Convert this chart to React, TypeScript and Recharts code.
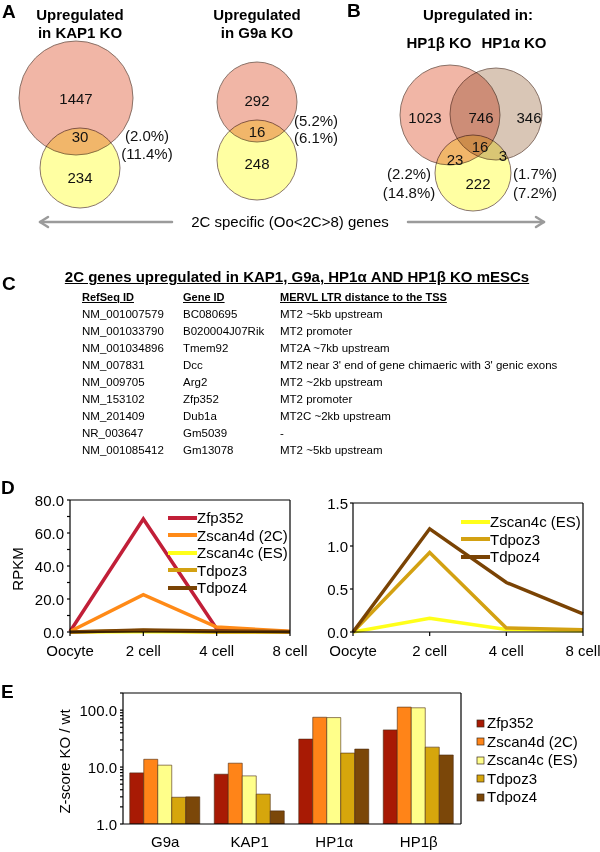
import React from 'react';
import {
  ScatterChart, Scatter, XAxis, YAxis, LineChart, Line, BarChart, Bar, Legend, Label,
} from 'recharts';

const FONT = '"Liberation Sans", Arial, Helvetica, sans-serif';

// ---------- Panel A/B: Venn diagrams ----------
const vennCircles = [
  { id: 'KAP1 KO', x: 76, y: 98, r: 57, fill: '#f1b6a6' },
  { id: '2C specific (KAP1)', x: 80, y: 168, r: 40, fill: '#ffffa2' },
  { id: 'G9a KO', x: 257, y: 102, r: 40, fill: '#f1b6a6' },
  { id: '2C specific (G9a)', x: 257, y: 160, r: 40, fill: '#ffffa2' },
  { id: 'HP1β KO', x: 450, y: 115, r: 50, fill: '#f1b6a6' },
  { id: 'HP1α KO', x: 496, y: 114, r: 46, fill: '#d9c6b6' },
  { id: '2C specific (HP1)', x: 473, y: 173, r: 38, fill: '#ffffa2' },
];
const vennCounts = [
  { x: 76, y: 98, label: '1447' },
  { x: 80, y: 136, label: '30' },
  { x: 80, y: 177, label: '234' },
  { x: 257, y: 100, label: '292' },
  { x: 257, y: 131, label: '16' },
  { x: 257, y: 163, label: '248' },
  { x: 425, y: 117, label: '1023' },
  { x: 481, y: 117, label: '746' },
  { x: 529, y: 117, label: '346' },
  { x: 480, y: 146, label: '16' },
  { x: 455, y: 159, label: '23' },
  { x: 503, y: 155, label: '3' },
  { x: 478, y: 183, label: '222' },
];
const vennPercents = [
  { x: 147, y: 135, label: '(2.0%)' },
  { x: 147, y: 153, label: '(11.4%)' },
  { x: 316, y: 120, label: '(5.2%)' },
  { x: 316, y: 137, label: '(6.1%)' },
  { x: 409, y: 173, label: '(2.2%)' },
  { x: 409, y: 192, label: '(14.8%)' },
  { x: 535, y: 173, label: '(1.7%)' },
  { x: 535, y: 192, label: '(7.2%)' },
];
const VENN_W = 600;
const VENN_H = 215;
const VENN_XMAX = 600;
const VENN_YMAX = 215;

// ---------- Panel C: table ----------
const refSeqIds = ['NM_001007579', 'NM_001033790', 'NM_001034896', 'NM_007831', 'NM_009705', 'NM_153102', 'NM_201409', 'NR_003647', 'NM_001085412'];
const geneIds = ['BC080695', 'B020004J07Rik', 'Tmem92', 'Dcc', 'Arg2', 'Zfp352', 'Dub1a', 'Gm5039', 'Gm13078'];
const ltrDistances = ['MT2 ~5kb upstream', 'MT2 promoter', 'MT2A ~7kb upstream', "MT2 near 3' end of gene chimaeric with 3' genic exons", 'MT2 ~2kb upstream', 'MT2 promoter', 'MT2C ~2kb upstream', '-', 'MT2 ~5kb upstream'];

// ---------- Panel D: RPKM ----------
const stages = ['Oocyte', '2 cell', '4 cell', '8 cell'];
const zfp352Rpkm = [0.3, 68.5, 2.0, 0.1];
const zscan4dRpkm = [0.3, 22.6, 3.0, 0.4];
const zscan4cRpkm = [0.0, 0.16, 0.03, 0.015];
const tdpoz3Rpkm = [0.0, 0.925, 0.046, 0.027];
const tdpoz4Rpkm = [0.0, 1.2, 0.575, 0.21];
const leftTicks = [0, 10, 20, 30, 40, 50, 60, 70, 80];
const leftLabelled = [0, 20, 40, 60, 80];
const rightTicks = [0, 0.5, 1.0, 1.5];

// ---------- Panel E: Z-scores ----------
const koLines = ['G9a', 'KAP1', 'HP1α', 'HP1β'];
const zfp352Z = [7.9, 7.5, 31, 45];
const zscan4dZ = [13.7, 11.7, 75, 113];
const zscan4cZ = [10.8, 7.0, 74, 110];
const tdpoz3Z = [2.95, 3.35, 17.6, 22.4];
const tdpoz4Z = [3.0, 1.7, 20.7, 16.3];
const logTicks = [1, 2, 3, 4, 5, 6, 7, 8, 9, 10, 20, 30, 40, 50, 60, 70, 80, 90, 100, 200];
const logLabelled = [1, 10, 100];

const legendOrderLeft = ['Zfp352', 'Zscan4d (2C)', 'Zscan4c (ES)', 'Tdpoz3', 'Tdpoz4'];
const legendOrderRight = ['Zscan4c (ES)', 'Tdpoz3', 'Tdpoz4'];

const COL = {
  zfp352Line: '#c11f38',
  zscan4dLine: '#ff8a17',
  zscan4cLine: '#ffff1a',
  tdpoz3Line: '#d3a112',
  tdpoz4Line: '#7a4304',
  zfp352Bar: '#a81a04',
  zscan4dBar: '#ff8418',
  zscan4cBar: '#ffff8a',
  tdpoz3Bar: '#d6a60c',
  tdpoz4Bar: '#7b4709',
};

const stageData = stages.map((s, i) => ({
  stage: s,
  zfp352: zfp352Rpkm[i],
  zscan4d: zscan4dRpkm[i],
  zscan4c: zscan4cRpkm[i],
  tdpoz3: tdpoz3Rpkm[i],
  tdpoz4: tdpoz4Rpkm[i],
}));
const zData = koLines.map((k, i) => ({
  ko: k,
  zfp352: zfp352Z[i],
  zscan4d: zscan4dZ[i],
  zscan4c: zscan4cZ[i],
  tdpoz3: tdpoz3Z[i],
  tdpoz4: tdpoz4Z[i],
}));

// ---------- helpers ----------
const T = ({ x, y, children, size = 15, bold = false, anchor = 'middle', underline = false }: any) => (
  <div
    style={{
      position: 'absolute',
      left: anchor === 'middle' ? x - 300 : anchor === 'end' ? x - 600 : x,
      width: anchor === 'start' ? undefined : 600,
      textAlign: anchor === 'middle' ? 'center' : anchor === 'end' ? 'right' : 'left',
      top: y - size * 0.6,
      fontSize: size,
      lineHeight: `${size * 1.2}px`,
      fontWeight: bold ? 700 : 400,
      textDecoration: underline ? 'underline' : 'none',
      whiteSpace: 'nowrap',
      color: '#000',
    }}
  >
    {children}
  </div>
);

const circleShape = (p: any) => (
  <circle
    cx={p.cx}
    cy={p.cy}
    r={p.payload.r * (VENN_W / VENN_XMAX)}
    fill={p.payload.fill}
    stroke="#7d675c"
    strokeWidth={0.9}
    style={{ mixBlendMode: 'multiply' }}
  />
);
const textShape = (p: any) => (
  <text x={p.cx} y={p.cy} textAnchor="middle" dominantBaseline="central" fontSize={15} fill="#111">
    {p.payload.label}
  </text>
);

const makeYTick = (labelled: number[], fmt: (v: number) => string) => (props: any) => {
  const { x, y, payload } = props;
  if (!labelled.includes(payload.value)) return <g />;
  return (
    <text x={x} y={y} textAnchor="end" dominantBaseline="central" fontSize={15} fill="#000">
      {fmt(payload.value)}
    </text>
  );
};

const yTitle = (text: string, cx: number) => (props: any) => {
  const vb = props.viewBox || { y: 0, height: 0 };
  const cy = vb.y + vb.height / 2 + 3;
  return (
    <text x={cx} y={cy} transform={`rotate(-90 ${cx} ${cy})`} textAnchor="middle" dominantBaseline="central" fontSize={15} fill="#000">
      {text}
    </text>
  );
};

const ordered = (payload: any[], order: string[]) =>
  order.map((n) => (payload || []).find((x: any) => x.value === n)).filter(Boolean);

const LineLegend = ({ payload }: any) => (
  <div style={{ fontFamily: FONT, fontSize: 15, color: '#000' }}>
    {(payload || []).map((p: any) => (
      <div key={p.value} style={{ display: 'flex', alignItems: 'center', height: 17.5, lineHeight: '17.5px' }}>
        <svg width={29} height={6} style={{ display: 'block' }}>
          <line x1={0} y1={3} x2={29} y2={3} stroke={p.color} strokeWidth={4} />
        </svg>
        <span style={{ whiteSpace: 'nowrap' }}>{p.value}</span>
      </div>
    ))}
  </div>
);

const BarLegend = ({ payload }: any) => (
  <div style={{ fontFamily: FONT, fontSize: 15, color: '#000' }}>
    {(payload || []).map((p: any) => (
      <div key={p.value} style={{ display: 'flex', alignItems: 'center', height: 18.5, lineHeight: '18.5px' }}>
        <svg width={11} height={9} style={{ display: 'block' }}>
          <rect x={1} y={1} width={7} height={7} fill={p.color} stroke="#3a2a1a" strokeWidth={0.7} />
        </svg>
        <span style={{ whiteSpace: 'nowrap' }}>{p.value}</span>
      </div>
    ))}
  </div>
);

const axisStroke = { stroke: '#000', strokeWidth: 1.2 };

export default function App() {
  return (
    <div style={{ position: 'absolute', left: 0, top: 0, width: 600, height: 852, background: '#fff', fontFamily: FONT, overflow: 'hidden' }}>
      {/* Venn diagrams */}
      <div style={{ position: 'absolute', left: 0, top: 0 }}>
        <ScatterChart width={VENN_W} height={VENN_H} margin={{ top: 0, right: 0, bottom: 0, left: 0 }}>
          <XAxis type="number" dataKey="x" domain={[0, VENN_XMAX]} hide height={0} />
          <YAxis type="number" dataKey="y" domain={[0, VENN_YMAX]} reversed hide width={0} />
          <Scatter data={vennCircles} shape={circleShape} isAnimationActive={false} />
          <Scatter data={vennCounts} shape={textShape} isAnimationActive={false} />
          <Scatter data={vennPercents} shape={textShape} isAnimationActive={false} />
        </ScatterChart>
      </div>

      <T x={2} y={12} size={19} bold anchor="start">A</T>
      <T x={80} y={15} bold>Upregulated</T>
      <T x={80} y={33} bold>in KAP1 KO</T>
      <T x={257} y={15} bold>Upregulated</T>
      <T x={257} y={33} bold>in G9a KO</T>
      <T x={347} y={11} size={19} bold anchor="start">B</T>
      <T x={478} y={15} bold>Upregulated in:</T>
      <T x={439} y={43} bold>HP1β KO</T>
      <T x={514} y={43} bold>HP1α KO</T>

      {/* arrows */}
      <svg width={600} height={20} style={{ position: 'absolute', left: 0, top: 212 }}>
        <g stroke="#9b9b9b" strokeWidth={2.5} fill="none" strokeLinecap="round" strokeLinejoin="round">
          <line x1={40} y1={10} x2={172} y2={10} />
          <polyline points="48,5 40,10 48,15" />
          <line x1={408} y1={10} x2={544} y2={10} />
          <polyline points="536,5 544,10 536,15" />
        </g>
      </svg>
      <T x={290} y={222}>2C specific (Oo&lt;2C&gt;8) genes</T>

      {/* Panel C */}
      <T x={2} y={284} size={19} bold anchor="start">C</T>
      <T x={297} y={277} bold underline>2C genes upregulated in KAP1, G9a, HP1α AND HP1β KO mESCs</T>
      <T x={82} y={298} size={11} bold underline anchor="start">RefSeq ID</T>
      <T x={183} y={298} size={11} bold underline anchor="start">Gene ID</T>
      <T x={280} y={298} size={11} bold underline anchor="start">MERVL LTR distance to the TSS</T>
      {refSeqIds.map((r, i) => (
        <React.Fragment key={r}>
          <T x={82} y={315 + i * 17} size={11.5} anchor="start">{r}</T>
          <T x={183} y={315 + i * 17} size={11.5} anchor="start">{geneIds[i]}</T>
          <T x={280} y={315 + i * 17} size={11.5} anchor="start">{ltrDistances[i]}</T>
        </React.Fragment>
      ))}

      {/* Panel D */}
      <T x={1} y={488} size={19} bold anchor="start">D</T>
      <div style={{ position: 'absolute', left: 0, top: 490 }}>
        <LineChart width={330} height={175} data={stageData} margin={{ top: 9, right: 39, bottom: 0, left: 0 }}>
          <XAxis dataKey="stage" interval={0} height={33} tickSize={4} tickMargin={9} tick={{ fontSize: 15, fill: '#000' }} axisLine={axisStroke} tickLine={axisStroke} />
          <XAxis xAxisId="top" orientation="top" dataKey="stage" height={1} tick={false} tickLine={false} axisLine={axisStroke} />
          <YAxis domain={[0, 80]} ticks={leftTicks} interval={0} width={70} tickSize={3} tickMargin={3} tick={makeYTick(leftLabelled, (v) => v.toFixed(1))} axisLine={axisStroke} tickLine={axisStroke}>
            <Label content={yTitle('RPKM', 17)} />
          </YAxis>
          <YAxis yAxisId="right" orientation="right" width={1} tick={false} tickLine={false} axisLine={axisStroke} />
          <Line dataKey="zscan4c" name="Zscan4c (ES)" stroke={COL.zscan4cLine} strokeWidth={3.5} dot={false} isAnimationActive={false} />
          <Line dataKey="zfp352" name="Zfp352" stroke={COL.zfp352Line} strokeWidth={3.5} dot={false} isAnimationActive={false} />
          <Line dataKey="zscan4d" name="Zscan4d (2C)" stroke={COL.zscan4dLine} strokeWidth={3.5} dot={false} isAnimationActive={false} />
          <Line dataKey="tdpoz3" name="Tdpoz3" stroke={COL.tdpoz3Line} strokeWidth={3.5} dot={false} isAnimationActive={false} />
          <Line dataKey="tdpoz4" name="Tdpoz4" stroke={COL.tdpoz4Line} strokeWidth={3.5} dot={false} isAnimationActive={false} />
          <Legend
            layout="vertical"
            align="center"
            verticalAlign="middle"
            content={(p: any) => <LineLegend payload={ordered(p.payload, legendOrderLeft)} />}
            wrapperStyle={{ left: 168, top: 19, width: 140, height: 90 }}
          />
        </LineChart>
      </div>
      <div style={{ position: 'absolute', left: 300, top: 490 }}>
        <LineChart width={300} height={175} data={stageData} margin={{ top: 12, right: 16, bottom: 0, left: 0 }}>
          <XAxis dataKey="stage" interval={0} height={33} tickSize={4} tickMargin={9} tick={{ fontSize: 15, fill: '#000' }} axisLine={axisStroke} tickLine={axisStroke} />
          <XAxis xAxisId="top" orientation="top" dataKey="stage" height={1} tick={false} tickLine={false} axisLine={axisStroke} />
          <YAxis domain={[0, 1.5]} ticks={rightTicks} interval={0} width={53} tickSize={3} tickMargin={2} tick={makeYTick(rightTicks, (v) => v.toFixed(1))} axisLine={axisStroke} tickLine={axisStroke} />
          <YAxis yAxisId="right" orientation="right" width={1} tick={false} tickLine={false} axisLine={axisStroke} />
          <Line dataKey="zscan4c" name="Zscan4c (ES)" stroke={COL.zscan4cLine} strokeWidth={3.5} dot={false} isAnimationActive={false} />
          <Line dataKey="tdpoz3" name="Tdpoz3" stroke={COL.tdpoz3Line} strokeWidth={3.5} dot={false} isAnimationActive={false} />
          <Line dataKey="tdpoz4" name="Tdpoz4" stroke={COL.tdpoz4Line} strokeWidth={3.5} dot={false} isAnimationActive={false} />
          <Legend
            layout="vertical"
            align="center"
            verticalAlign="middle"
            content={(p: any) => <LineLegend payload={ordered(p.payload, legendOrderRight)} />}
            wrapperStyle={{ left: 161, top: 23, width: 130, height: 55 }}
          />
        </LineChart>
      </div>

      {/* Panel E */}
      <T x={1} y={692} size={19} bold anchor="start">E</T>
      <div style={{ position: 'absolute', left: 0, top: 680 }}>
        <BarChart width={600} height={172} data={zData} margin={{ top: 12, right: 138, bottom: 0, left: 0 }} barGap={0} barCategoryGap="8%">
          <XAxis dataKey="ko" interval={0} height={28} tickSize={0} tickMargin={12} tick={{ fontSize: 15, fill: '#000' }} axisLine={axisStroke} tickLine={false} />
          <XAxis xAxisId="top" orientation="top" dataKey="ko" height={1} tick={false} tickLine={false} axisLine={axisStroke} />
          <YAxis scale="log" domain={[1, 200]} allowDataOverflow ticks={logTicks} interval={0} width={123} tickSize={3} tickMargin={3} tick={makeYTick(logLabelled, (v) => v.toFixed(1))} axisLine={axisStroke} tickLine={axisStroke}>
            <Label content={yTitle('Z-score KO / wt', 64)} />
          </YAxis>
          <YAxis yAxisId="right" orientation="right" width={1} tick={false} tickLine={false} axisLine={axisStroke} />
          <Bar dataKey="zfp352" name="Zfp352" fill={COL.zfp352Bar} stroke="#4a2a10" strokeWidth={0.6} isAnimationActive={false} />
          <Bar dataKey="zscan4d" name="Zscan4d (2C)" fill={COL.zscan4dBar} stroke="#4a2a10" strokeWidth={0.6} isAnimationActive={false} />
          <Bar dataKey="zscan4c" name="Zscan4c (ES)" fill={COL.zscan4cBar} stroke="#4a2a10" strokeWidth={0.6} isAnimationActive={false} />
          <Bar dataKey="tdpoz3" name="Tdpoz3" fill={COL.tdpoz3Bar} stroke="#4a2a10" strokeWidth={0.6} isAnimationActive={false} />
          <Bar dataKey="tdpoz4" name="Tdpoz4" fill={COL.tdpoz4Bar} stroke="#4a2a10" strokeWidth={0.6} isAnimationActive={false} />
          <Legend
            layout="vertical"
            align="center"
            verticalAlign="middle"
            content={(p: any) => <BarLegend payload={ordered(p.payload, legendOrderLeft)} />}
            wrapperStyle={{ left: 476, top: 34, width: 124, height: 95 }}
          />
        </BarChart>
      </div>
    </div>
  );
}
